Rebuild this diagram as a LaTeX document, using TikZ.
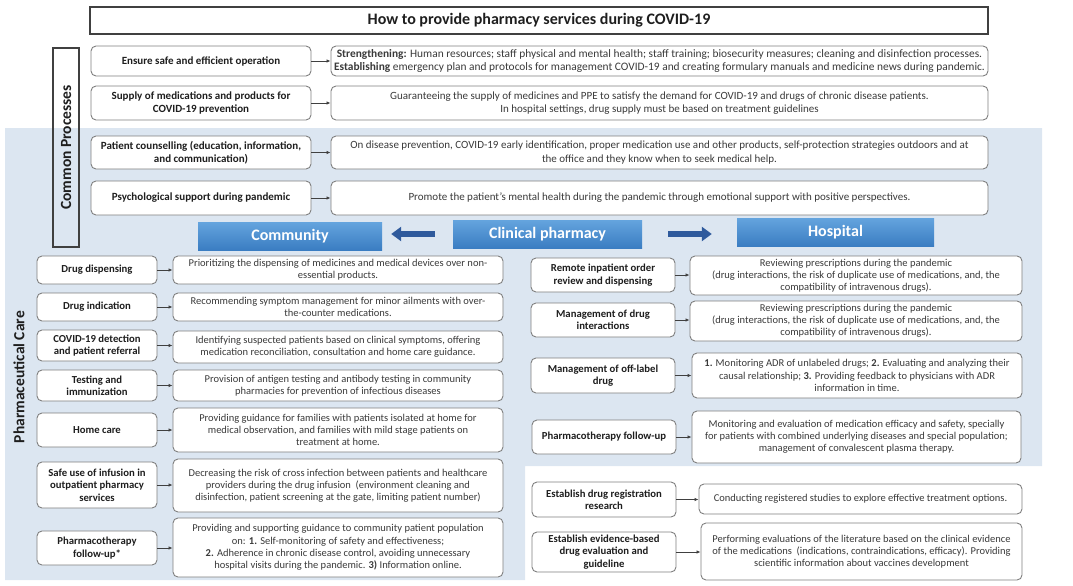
\documentclass[tikz,border=0pt]{standalone}
\usepackage{fontspec}
\setmainfont{Carlito}
\usetikzlibrary{arrows.meta}

\definecolor{bgblue}{HTML}{DCE6F1}
\definecolor{edge}{HTML}{7F7F7F}
\definecolor{ink}{HTML}{1E1E1E}
\definecolor{body}{HTML}{3A3A3A}
\definecolor{hdtop}{HTML}{64A4DE}
\definecolor{hdbot}{HTML}{3A7DC2}
\definecolor{navy}{HTML}{2F5A9C}

\newcommand\fs[2]{\fontsize{#1}{#2}\selectfont}
% box from corner (x1,y1) to corner (x2,y2), in pixel-like units
\newcommand\bx[7]{\node[#2, minimum width={#5-#3}, minimum height={#6-#4}] (#1) at ({(#3+#5)/2},{(#4+#6)/2}) {#7};}
% horizontal connector from a label box to its description box
\newcommand\lk[2]{\draw[link] (#1.east) -- (#1.east -| #2.west);}

\tikzset{
  card/.style={draw=edge, line width=0.9pt, rounded corners=5pt, fill=white, align=center, inner sep=1pt},
  labA/.style={card, text=ink, font=\bfseries\fs{11}{13}},
  txtA/.style={card, text=body, font=\fs{11}{13.5}},
  txtAw/.style={card, text=body, font=\fs{11.4}{13.5}},
  labB/.style={card, text=ink, font=\bfseries\fs{10.7}{12.3}},
  txtB/.style={card, text=body, font=\fs{10.5}{12.2}},
  titlebox/.style={draw=ink!85, line width=1.3pt, fill=white, text=ink, font=\bfseries\fs{16}{18}},
  hdr/.style={top color=hdtop, bottom color=hdbot, draw=none, text=white, font=\bfseries\fs{16}{18}, inner sep=0pt},
  link/.style={draw=ink!85, line width=0.8pt, -{Latex[length=4pt,width=3.5pt]}},
  blockarrow/.style={draw=navy, line width=6pt, -{Triangle[length=10pt,width=14pt]}},
  side/.style={text=ink, font=\bfseries\fs{15.5}{17}}
}

\begin{document}
\begin{tikzpicture}[x=1pt,y=-1pt]
\useasboundingbox (0,0) rectangle (1073,586);

% light blue background band (L-shaped)
\fill[bgblue] (5,128) -- (1042,128) -- (1042,466) -- (525,466) -- (525,580) -- (5,580) -- cycle;

% title
\bx{title}{titlebox}{90}{7}{988}{34}{How to provide pharmacy services during COVID-19}

% common processes
\node[draw=ink!85, line width=1.3pt, rotate=90, minimum width=199, minimum height=26, side, inner sep=0pt] (common) at (66,147.5) {Common Processes};

\bx{c1}{labA}{91}{46}{311}{76}{Ensure safe and efficient operation}
\bx{d1}{txtAw}{331}{46}{988}{76}{\textbf{Strengthening:} Human resources; staff physical and mental health; staff training; biosecurity measures; cleaning and disinfection processes.\\\textbf{Establishing} emergency plan and protocols for management COVID-19 and creating formulary manuals and medicine news during pandemic.}
\bx{c2}{labA}{91}{86}{311}{120}{Supply of medications and products for\\COVID-19 prevention}
\bx{d2}{txtA}{331}{86}{988}{120}{Guaranteeing the supply of medicines and PPE to satisfy the demand for COVID-19 and drugs of chronic disease patients.\\In hospital settings, drug supply must be based on treatment guidelines}
\bx{c3}{labA}{91}{136}{311}{169}{Patient counselling (education, information,\\and communication)}
\bx{d3}{txtA}{331}{136}{988}{169}{On disease prevention, COVID-19 early identification, proper medication use and other products, self-protection strategies outdoors and at\\the office and they know when to seek medical help.}
\bx{c4}{labA}{91}{181}{311}{215}{Psychological support during pandemic}
\bx{d4}{txtA}{331}{181}{988}{215}{Promote the patient's mental health during the pandemic through emotional support with positive perspectives.}
\lk{c1}{d1}\lk{c2}{d2}\lk{c3}{d3}\lk{c4}{d4}

% settings headers
\bx{cm}{hdr}{198}{222}{382}{250}{Community}
\bx{cp}{hdr}{453}{220}{642}{248}{Clinical pharmacy}
\bx{hp}{hdr}{737}{218}{934}{246}{Hospital}
\draw[blockarrow, shorten <=18pt, shorten >=9pt] (cp.west) -- (cp.west -| cm.east);
\draw[blockarrow, shorten <=26pt, shorten >=25pt] (cp.east) -- (cp.east -| hp.west);

% pharmaceutical care
\node[side, rotate=90] (pcare) at (19,377) {Pharmaceutical Care};

% community column
\bx{a1}{labB}{37}{256}{157}{284}{Drug dispensing}
\bx{b1}{txtB}{173}{256}{503}{284}{Prioritizing the dispensing of medicines and medical devices over non-\\essential products.}
\bx{a2}{labB}{37}{293}{157}{321}{Drug indication}
\bx{b2}{txtB}{173}{293}{503}{321}{Recommending symptom management for minor ailments with over-\\the-counter medications.}
\bx{a3}{labB}{37}{330}{157}{361}{COVID-19 detection\\and patient referral}
\bx{b3}{txtB}{173}{331}{503}{363}{Identifying suspected patients based on clinical symptoms, offering\\medication reconciliation, consultation and home care guidance.}
\bx{a4}{labB}{37}{370}{157}{401}{Testing and\\immunization}
\bx{b4}{txtB}{173}{370}{503}{401}{Provision of antigen testing and antibody testing in community\\pharmacies for prevention of infectious diseases}
\bx{a5}{labB}{37}{413}{157}{447}{Home care}
\bx{b5}{txtB}{173}{408}{503}{452}{Providing guidance for families with patients isolated at home for\\medical observation, and families with mild stage patients on\\treatment at home.}
\bx{a6}{labB}{37}{462}{157}{508}{Safe use of infusion in\\outpatient pharmacy\\services}
\bx{b6}{txtB}{173}{459}{503}{512}{Decreasing the risk of cross infection between patients and healthcare\\providers during the drug infusion\ \ (environment cleaning and\\disinfection, patient screening at the gate, limiting patient number)}
\bx{a7}{labB}{37}{531}{157}{565}{Pharmacotherapy\\follow-up*}
\bx{b7}{txtB}{173}{518}{503}{577}{Providing and supporting guidance to community patient population\\on: \textbf{1.} Self-monitoring of safety and effectiveness;\\\textbf{2.} Adherence in chronic disease control, avoiding unnecessary\\hospital visits during the pandemic. \textbf{3)} Information online.}
\lk{a1}{b1}\lk{a2}{b2}\lk{a3}{b3}\lk{a4}{b4}\lk{a5}{b5}\lk{a6}{b6}\lk{a7}{b7}

% hospital column
\bx{e1}{labB}{531}{258}{675}{292}{Remote inpatient order\\review and dispensing}
\bx{f1}{txtB}{690}{256}{1022}{295}{Reviewing prescriptions during the pandemic\\(drug interactions, the risk of duplicate use of medications, and, the\\compatibility of intravenous drugs).}
\bx{e2}{labB}{531}{303}{675}{337}{Management of drug\\interactions}
\bx{f2}{txtB}{690}{301}{1022}{341}{Reviewing prescriptions during the pandemic\\(drug interactions, the risk of duplicate use of medications, and, the\\compatibility of intravenous drugs).}
\bx{e3}{labB}{531}{358}{675}{393}{Management of off-label\\drug}
\bx{f3}{txtB}{692}{353}{1022}{398}{\textbf{1.} Monitoring ADR of unlabeled drugs; \textbf{2.} Evaluating and analyzing their\\causal relationship; \textbf{3.} Providing feedback to physicians with ADR\\information in time.}
\bx{e4}{labB}{532}{420}{676}{454}{Pharmacotherapy follow-up}
\bx{f4}{txtB}{692}{411}{1021}{463}{Monitoring and evaluation of medication efficacy and safety, specially\\for patients with combined underlying diseases and special population;\\management of convalescent plasma therapy.}
\bx{e5}{labB}{532}{482}{676}{517}{Establish drug registration\\research}
\bx{f5}{txtB}{699}{484}{1022}{514}{Conducting registered studies to explore effective treatment options.}
\bx{e6}{labB}{532}{532}{676}{572}{Establish evidence-based\\drug evaluation and\\guideline}
\bx{f6}{txtB}{701}{523}{1022}{580}{Performing evaluations of the literature based on the clinical evidence\\of the medications\ \ (indications, contraindications, efficacy). Providing\\scientific information about vaccines development}
\lk{e1}{f1}\lk{e2}{f2}\lk{e3}{f3}\lk{e4}{f4}\lk{e5}{f5}\lk{e6}{f6}
\end{tikzpicture}
\end{document}
